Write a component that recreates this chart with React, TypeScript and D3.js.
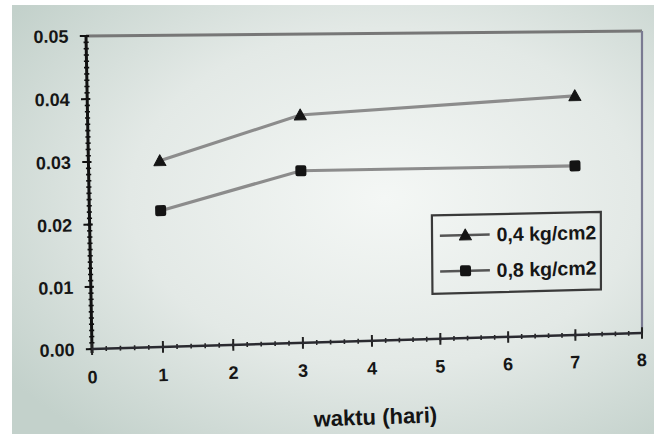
import React from "react";
import * as d3 from "d3";

// Days of observation and the measured value for each load
const days = [1, 3, 7];
const load04 = [0.03, 0.037, 0.0395];
const load08 = [0.022, 0.028, 0.028];
const seriesNames = ["0,4 kg/cm2", "0,8 kg/cm2"];
const xTickValues = [0, 1, 2, 3, 4, 5, 6, 7, 8];
const yTickValues = [0, 0.01, 0.02, 0.03, 0.04, 0.05];
const xTitle = "waktu (hari)";

const W = 654;
const H = 434;
const plot = { left: 88, right: 646, top: 34, bottom: 349 };

// Corners of the plot frame after the page's keystone tilt (TL, TR, BR, BL)
const warpedCorners: [number, number][] = [
  [86, 36],
  [642, 31],
  [642, 333],
  [92, 349],
];

function solveHomography(src: [number, number][], dst: [number, number][]) {
  const A: number[][] = [];
  const b: number[] = [];
  for (let i = 0; i < 4; i++) {
    const [x, y] = src[i];
    const [u, v] = dst[i];
    A.push([x, y, 1, 0, 0, 0, -x * u, -y * u]);
    b.push(u);
    A.push([0, 0, 0, x, y, 1, -x * v, -y * v]);
    b.push(v);
  }
  const n = 8;
  for (let c = 0; c < n; c++) {
    let p = c;
    for (let r = c + 1; r < n; r++) if (Math.abs(A[r][c]) > Math.abs(A[p][c])) p = r;
    [A[c], A[p]] = [A[p], A[c]];
    [b[c], b[p]] = [b[p], b[c]];
    for (let r = 0; r < n; r++) {
      if (r === c) continue;
      const f = A[r][c] / A[c][c];
      for (let k = c; k < n; k++) A[r][k] -= f * A[c][k];
      b[r] -= f * b[c];
    }
  }
  return b.map((v, i) => v / A[i][i]);
}

const Hm = solveHomography(
  [
    [plot.left, plot.top],
    [plot.right, plot.top],
    [plot.right, plot.bottom],
    [plot.left, plot.bottom],
  ],
  warpedCorners
);

// page-plane point -> screen point
function P(x: number, y: number): [number, number] {
  const [a, b, c, d, e, f, g, h] = Hm;
  const w = g * x + h * y + 1;
  return [(a * x + b * y + c) / w, (d * x + e * y + f) / w];
}

// local tilt of the horizontal direction at a page point, in degrees
function tilt(x: number, y: number) {
  const p0 = P(x - 10, y);
  const p1 = P(x + 10, y);
  return (Math.atan2(p1[1] - p0[1], p1[0] - p0[0]) * 180) / Math.PI;
}

const FONT = "'Liberation Sans', Arial, sans-serif";

function Seg({ x1, y1, x2, y2, ...rest }: any) {
  const [u1, v1] = P(x1, y1);
  const [u2, v2] = P(x2, y2);
  return <line x1={u1} y1={v1} x2={u2} y2={v2} {...rest} />;
}

function Label({ x, y, children, ...rest }: any) {
  const [u, v] = P(x, y);
  return (
    <text x={u} y={v} transform={`rotate(${tilt(x, y)},${u},${v})`} {...rest}>
      {children}
    </text>
  );
}

function Marker({ kind, x, y }: { kind: string; x: number; y: number }) {
  const [u, v] = P(x, y);
  const r = tilt(x, y);
  if (kind === "tri") {
    const s = 6;
    return (
      <path
        d={`M${u},${v - s} L${u + s},${v + s * 0.8} L${u - s},${v + s * 0.8} Z`}
        transform={`rotate(${r},${u},${v})`}
        fill="#141414"
        stroke="#141414"
        strokeWidth={1}
        strokeLinejoin="round"
      />
    );
  }
  const s = 5.5;
  return (
    <rect
      x={u - s}
      y={v - s}
      width={2 * s}
      height={2 * s}
      rx={2}
      transform={`rotate(${r},${u},${v})`}
      fill="#141414"
    />
  );
}

export default function App() {
  const x = d3.scaleLinear().domain([0, 8]).range([plot.left, plot.right]);
  const y = d3.scaleLinear().domain([0, 0.05]).range([plot.bottom, plot.top]);

  const line = d3
    .line<[number, number]>()
    .x((d) => P(x(d[0]), y(d[1]))[0])
    .y((d) => P(x(d[0]), y(d[1]))[1]);

  const series = [
    { name: seriesNames[0], values: load04, kind: "tri" },
    { name: seriesNames[1], values: load08, kind: "sq" },
  ];

  const yMinor = d3.range(0, 0.0505, 0.001);
  const xMinor = d3.range(0, 8.01, 0.2);

  const legend = { x: 429, y: 221, w: 174, h: 81 };
  const legendPoly = [
    P(legend.x, legend.y),
    P(legend.x + legend.w, legend.y),
    P(legend.x + legend.w, legend.y + legend.h),
    P(legend.x, legend.y + legend.h),
  ]
    .map((p) => p.join(","))
    .join(" ");

  return (
    <svg
      width={W}
      height={H}
      style={{ position: "fixed", left: 0, top: 0, display: "block" }}
    >
      <defs>
        <radialGradient id="paper" cx="0.58" cy="0.45" r="0.72">
          <stop offset="0" stopColor="#f4f7f5" />
          <stop offset="0.55" stopColor="#e3e9e6" />
          <stop offset="1" stopColor="#c3d1cb" />
        </radialGradient>
      </defs>
      <rect x={0} y={0} width={W} height={H} fill="#ffffff" />
      <rect x={12} y={5} width={W - 12} height={H - 5} fill="url(#paper)" />

      {/* frame: top and right edges */}
      <Seg x1={plot.left} y1={plot.top} x2={plot.right} y2={plot.top} stroke="#777" strokeWidth={3} />
      <Seg x1={plot.right} y1={plot.top} x2={plot.right} y2={plot.bottom} stroke="#7a7a92" strokeWidth={2.2} />

      {/* y axis */}
      {yMinor.map((v, i) => (
        <Seg key={`ym${i}`} x1={plot.left - 2.5} x2={plot.left + 2.5} y1={y(v)} y2={y(v)} stroke="#111" strokeWidth={1.6} />
      ))}
      {yTickValues.map((v) => (
        <Seg key={`yM${v}`} x1={plot.left - 6} x2={plot.left + 3} y1={y(v)} y2={y(v)} stroke="#111" strokeWidth={2} />
      ))}
      <Seg x1={plot.left} x2={plot.left} y1={plot.top} y2={plot.bottom + 4} stroke="#111" strokeWidth={3} />
      {yTickValues.map((v) => (
        <Label
          key={`yl${v}`}
          x={plot.left - 17}
          y={y(v)}
          dy="0.36em"
          textAnchor="end"
          fontFamily={FONT}
          fontSize={18}
          fontWeight={700}
          fill="#161616"
        >
          {d3.format(".2f")(v)}
        </Label>
      ))}

      {/* x axis */}
      {xMinor.map((v, i) => (
        <Seg key={`xm${i}`} x1={x(v)} x2={x(v)} y1={plot.bottom - 2.5} y2={plot.bottom + 2.5} stroke="#222" strokeWidth={1.6} />
      ))}
      {xTickValues.map((v) => (
        <Seg key={`xM${v}`} x1={x(v)} x2={x(v)} y1={plot.bottom - 6} y2={plot.bottom + 6} stroke="#222" strokeWidth={2} />
      ))}
      <Seg x1={plot.left} x2={plot.right} y1={plot.bottom} y2={plot.bottom} stroke="#2a2a30" strokeWidth={2.5} />
      {xTickValues.map((v) => (
        <Label
          key={`xl${v}`}
          x={x(v)}
          y={plot.bottom + 35}
          textAnchor="middle"
          fontFamily={FONT}
          fontSize={18}
          fontWeight={700}
          fill="#161616"
        >
          {v}
        </Label>
      ))}
      <Label
        x={(plot.left + plot.right) / 2 + 3}
        y={436}
        textAnchor="middle"
        fontFamily={FONT}
        fontSize={22}
        fontWeight={700}
        fill="#141414"
      >
        {xTitle}
      </Label>

      {/* series */}
      {series.map((s) => {
        const pts: [number, number][] = days.map((d, i) => [d, s.values[i]]);
        return (
          <g key={s.name}>
            <path d={line(pts) ?? ""} fill="none" stroke="#8c8c8c" strokeWidth={3.2} />
            {pts.map((p, i) => (
              <Marker key={i} kind={s.kind} x={x(p[0])} y={y(p[1])} />
            ))}
          </g>
        );
      })}

      {/* legend */}
      <polygon points={legendPoly} fill="none" stroke="#3a3a3a" strokeWidth={2.2} />
      {series.map((s, i) => {
        const cy = legend.y + 21 + i * 37;
        return (
          <g key={`lg${s.name}`}>
            <Seg x1={legend.x + 8} x2={legend.x + 59} y1={cy} y2={cy} stroke="#555" strokeWidth={2.5} />
            <Marker kind={s.kind} x={legend.x + 34} y={cy} />
            <Label
              x={legend.x + 66}
              y={cy}
              dy="0.36em"
              fontFamily={FONT}
              fontSize={19.5}
              fontWeight={700}
              fill="#161616"
            >
              {s.name}
            </Label>
          </g>
        );
      })}
    </svg>
  );
}
